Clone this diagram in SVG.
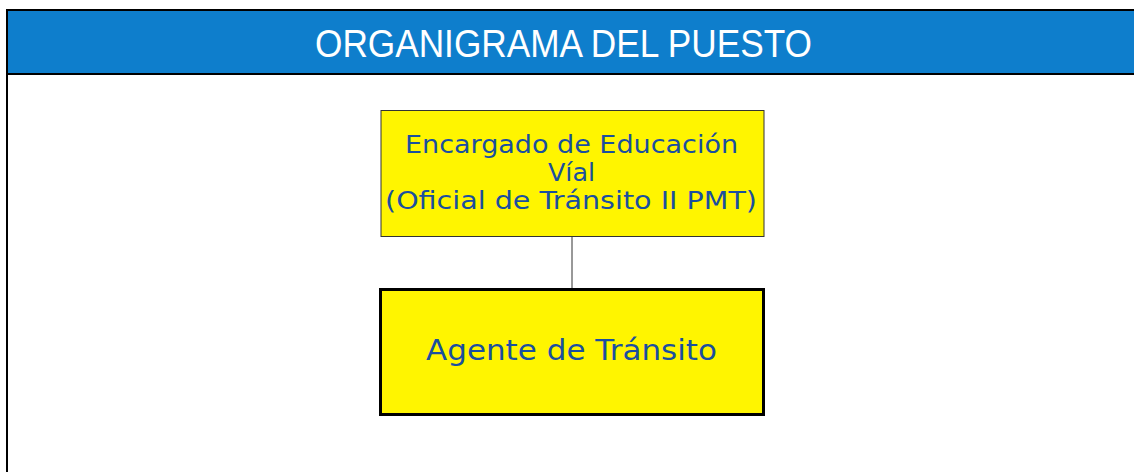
<svg xmlns="http://www.w3.org/2000/svg" width="1134" height="472" viewBox="0 0 1134 472">
<style>
.node-text{font-family:"DejaVu Sans",Verdana,sans-serif;fill:#1a4f9f;text-anchor:middle}
.title{font-family:"Liberation Sans",Arial,sans-serif;fill:#ffffff;text-anchor:middle;font-size:39px}
</style>
<rect x="0" y="0" width="1134" height="472" fill="#ffffff"/>
<g id="frame">
<rect x="7" y="10" width="1140" height="64" fill="#0e7ecc" stroke="#000" stroke-width="2"/>
<line x1="7" y1="74" x2="7" y2="472" stroke="#000" stroke-width="2"/>
<text class="title" x="563.5" y="56.5" textLength="497" lengthAdjust="spacingAndGlyphs">ORGANIGRAMA DEL PUESTO</text>
</g>
<g id="connectors">
<line x1="572" y1="237" x2="572" y2="289" stroke="#333" stroke-width="1"/>
</g>
<g id="node-encargado">
<rect x="381" y="110.5" width="383" height="126" fill="#fff500" stroke="#333" stroke-width="1"/>
<text class="node-text" font-size="24"><tspan x="571.5" y="153" textLength="333" lengthAdjust="spacingAndGlyphs">Encargado de Educación</tspan><tspan x="571.5" y="181" textLength="47" lengthAdjust="spacingAndGlyphs">Víal</tspan><tspan x="571" y="209" textLength="372" lengthAdjust="spacingAndGlyphs">(Oficial de Tránsito II PMT)</tspan></text>
</g>
<g id="node-agente">
<rect x="380.5" y="289.5" width="383" height="125" fill="#fff500" stroke="#000" stroke-width="3"/>
<text class="node-text" font-size="28" x="571.5" y="360" textLength="291" lengthAdjust="spacingAndGlyphs">Agente de Tránsito</text>
</g>
</svg>
